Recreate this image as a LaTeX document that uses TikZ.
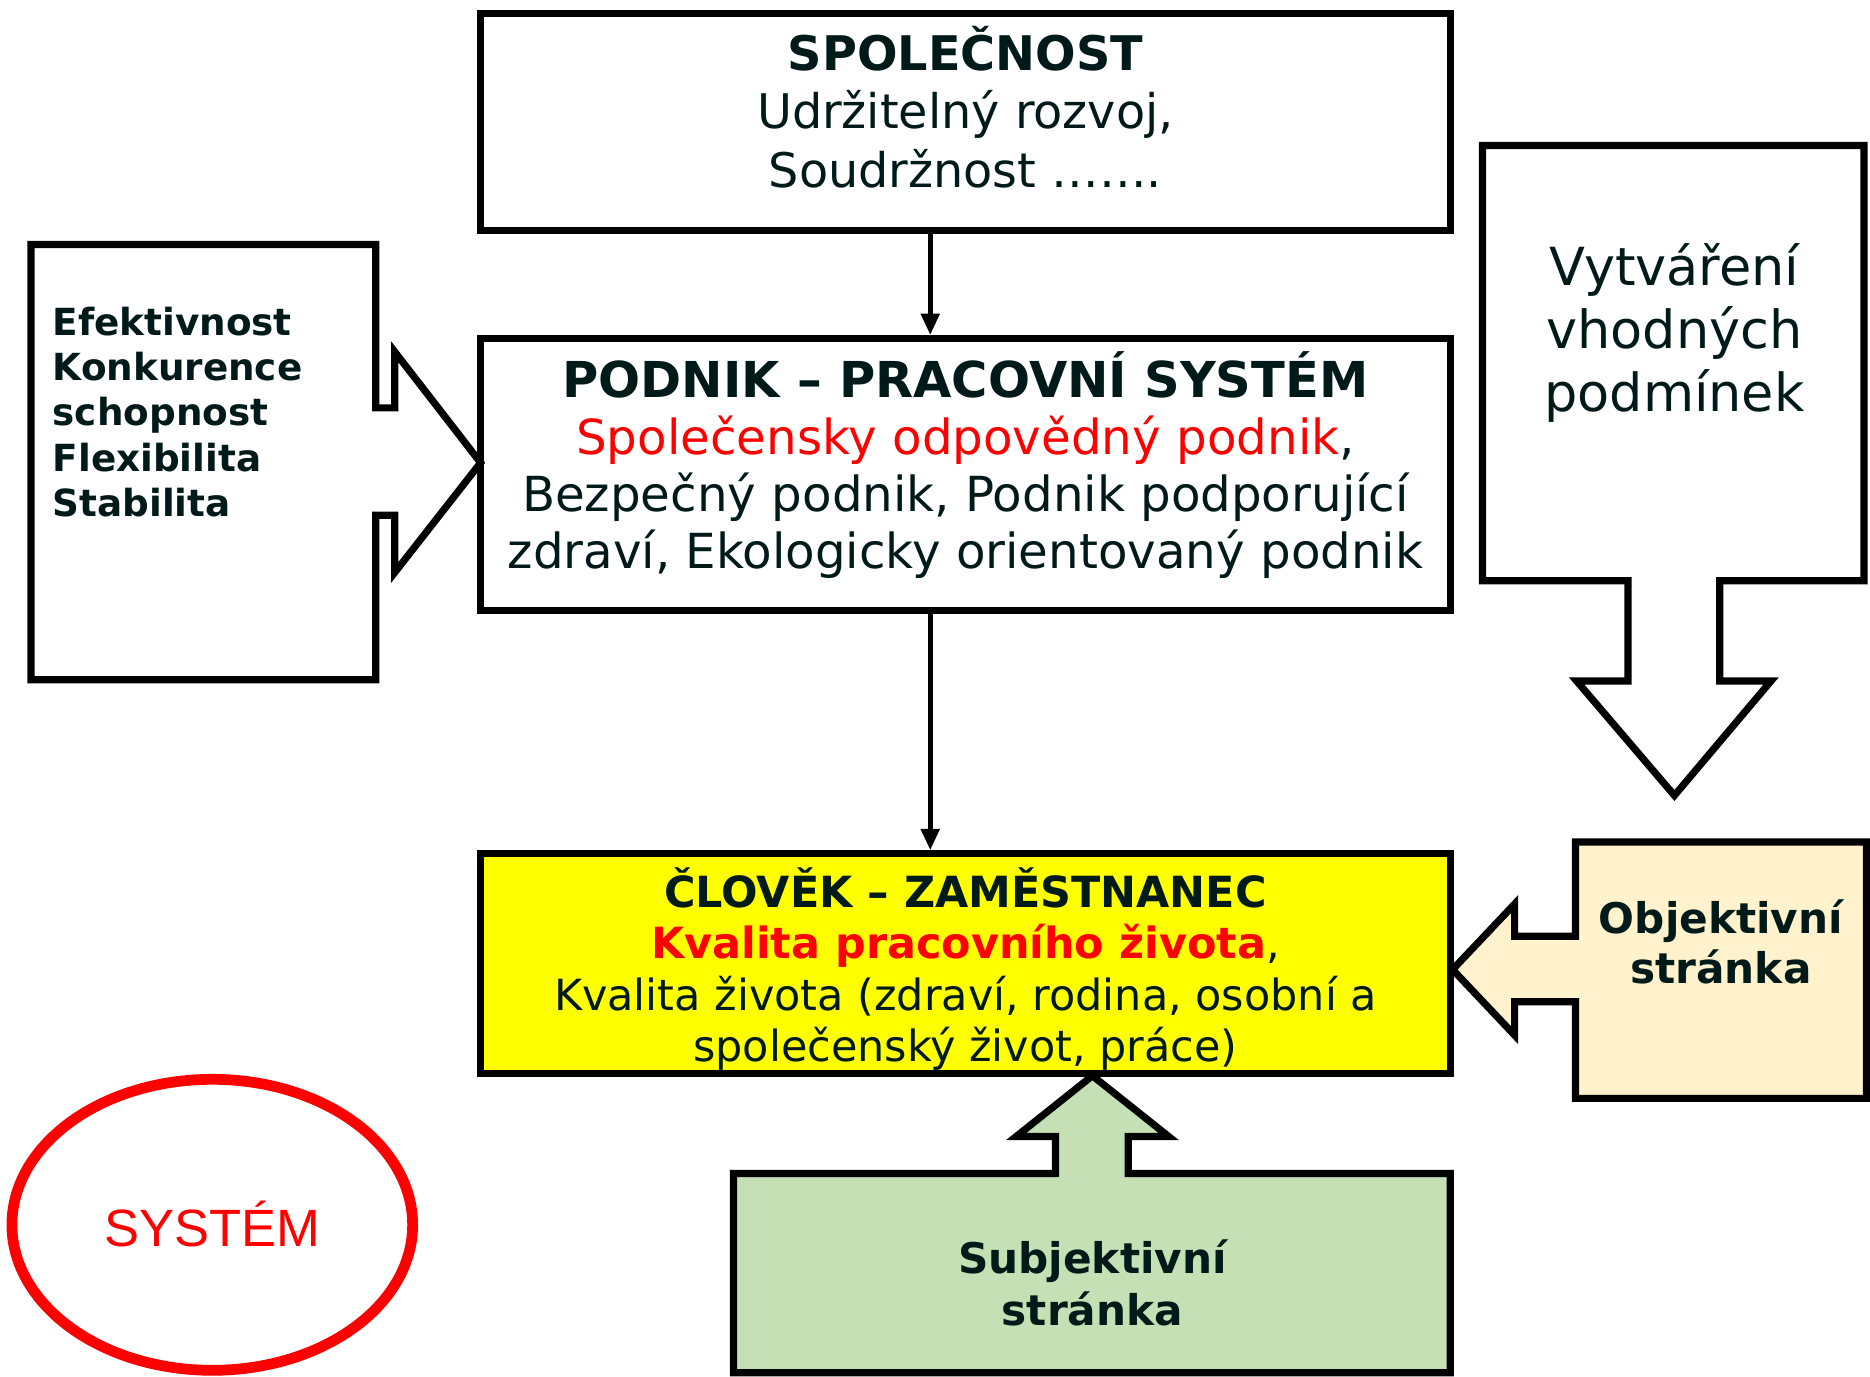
\documentclass[tikz,border=0pt]{standalone}
\usepackage{fontspec}
\setmainfont{DejaVu Sans}
\newfontfamily\arialf{Liberation Sans}
\usetikzlibrary{arrows.meta,shapes.geometric}
\definecolor{txt}{RGB}{0,26,26}
\definecolor{cream}{RGB}{255,242,204}
\definecolor{lgreen}{RGB}{197,224,180}
\definecolor{yel}{RGB}{255,255,0}
\begin{document}
\begin{tikzpicture}[x=1pt,y=-1pt,
  box/.style={draw=black,line width=6pt,rectangle,inner sep=0pt},
  callout/.style={draw=black,line width=6pt,line join=miter,miter limit=10},
  conn/.style={draw=black,line width=4.5pt,-{Triangle[length=18pt,width=15pt]}},
  txtn/.style={text=txt,inner sep=0pt,align=center,anchor=base},
  ltxt/.style={text=txt,inner sep=0pt,align=left,anchor=base west}]
\useasboundingbox[fill=white] (0,0) rectangle (1568,1154);
% boxes
\node[box,fill=white,minimum width=813pt,minimum height=182pt] (spol) at (809.5,102) {};
\node[box,fill=white,minimum width=813pt,minimum height=228pt] (podnik) at (809.5,398) {};
\node[box,fill=yel,minimum width=813pt,minimum height=184pt] (clovek) at (809.5,808) {};
% callouts
\path[callout,fill=white] (26,205) -- (315,205) -- (315,342) -- (331,342) -- (331,295) -- (403,388) -- (331,480) -- (331,432) -- (315,432) -- (315,570) -- (26,570) -- cycle;
\path[callout,fill=white] (1243,122) -- (1563,122) -- (1563,487) -- (1442,487) -- (1442,571) -- (1485,571) -- (1404,667) -- (1322,571) -- (1365,571) -- (1365,487) -- (1243,487) -- cycle;
\path[callout,fill=cream] (1321,706) -- (1565,706) -- (1565,921) -- (1321,921) -- (1321,840) -- (1270,840) -- (1270,868) -- (1218,813) -- (1270,758) -- (1270,785) -- (1321,785) -- cycle;
\path[callout,fill=lgreen] (615,984) -- (885,984) -- (885,953) -- (852,953) -- (916,902) -- (980,953) -- (946,953) -- (946,984) -- (1216,984) -- (1216,1151) -- (615,1151) -- cycle;
% connectors
\coordinate (cx) at (780,0);
\draw[conn] (spol.south -| cx) -- (podnik.north -| cx);
\draw[conn] (podnik.south -| cx) -- (clovek.north -| cx);
% texts
\node[txtn,font=\fontsize{40}{49}\selectfont] (spoltxt) at (809.5,157) {{\bfseries SPOLEČNOST}\\Udržitelný rozvoj,\\Soudržnost …….};
\node[txtn,font=\fontsize{40.5}{48}\selectfont] (podniktxt) at (809.5,477) {{\bfseries\fontsize{41.5}{48}\selectfont PODNIK – PRACOVNÍ SYSTÉM}\\{\color{red}Společensky odpovědný podnik},\\Bezpečný podnik, Podnik podporující\\zdraví, Ekologicky orientovaný podnik};
\node[txtn,font=\fontsize{36}{43}\selectfont] (clovektxt) at (809.5,890) {{\bfseries ČLOVĚK – ZAMĚSTNANEC}\\{\bfseries\color{red}Kvalita pracovního života},\\Kvalita života (zdraví, rodina, osobní a\\společenský život, práce)};
\node[ltxt,font=\bfseries\fontsize{31.3}{38}\selectfont] (efekt) at (44,433) {Efektivnost\\Konkurence\\schopnost\\Flexibilita\\Stabilita};
\node[txtn,font=\fontsize{44}{53}\selectfont] (vytv) at (1404,345) {Vytváření\\vhodných\\podmínek};
\node[txtn,font=\bfseries\fontsize{35.4}{42}\selectfont] (objtxt) at (1443,825) {Objektivní\\stránka};
\node[txtn,font=\bfseries\fontsize{35.4}{43}\selectfont] (subjtxt) at (916,1111) {Subjektivní\\stránka};
% system ellipse
\node[draw=red,line width=9pt,ellipse,minimum width=336pt,minimum height=244pt,inner sep=0pt] (sys) at (178,1027) {};
\node[text=red,inner sep=0pt,anchor=base,font=\arialf\fontsize{44}{50}\selectfont] (systxt) at (178,1045) {SYSTÉM};
\end{tikzpicture}
\end{document}
